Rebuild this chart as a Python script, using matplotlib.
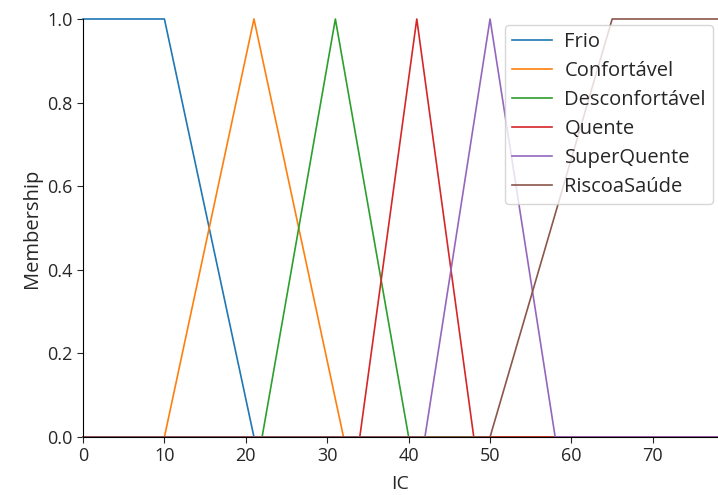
import matplotlib
matplotlib.use("Agg")
import matplotlib.pyplot as plt

# membership function breakpoints (IC universe 0..78)
labels = ["Frio", "Confortável", "Desconfortável", "Quente", "SuperQuente", "RiscoaSaúde"]
x_pts = [
    [0, 0, 10, 21, 78],
    [0, 10, 21, 32, 78],
    [0, 22, 31, 40, 78],
    [0, 34, 41, 48, 78],
    [0, 42, 50, 58, 78],
    [0, 50, 65, 78, 78],
]
y_pts = [
    [1, 1, 1, 0, 0],
    [0, 0, 1, 0, 0],
    [0, 0, 1, 0, 0],
    [0, 0, 1, 0, 0],
    [0, 0, 1, 0, 0],
    [0, 0, 1, 1, 1],
]
colors = ["#1f77b4", "#ff7f0e", "#2ca02c", "#d62728", "#9467bd", "#8c564b"]

plt.rcParams['font.family'] = ['Open Sans', 'DejaVu Sans']
plt.rcParams['font.size'] = 13
plt.rcParams['text.color'] = '#262626'
plt.rcParams['axes.labelcolor'] = '#262626'
plt.rcParams['xtick.color'] = '#262626'
plt.rcParams['ytick.color'] = '#262626'

fig = plt.figure(figsize=(7.18, 4.95), dpi=100)
ax = fig.add_axes([83/718, 58/495, 635/718, 418/495])

for xs, ys, lab, c in zip(x_pts, y_pts, labels, colors):
    ax.plot(xs, ys, color=c, lw=1.2, label=lab, clip_on=False)

ax.set_xlim(0, 78)
ax.set_ylim(0, 1.0)
ax.set_xticks([0, 10, 20, 30, 40, 50, 60, 70])
ax.set_yticks([0, 0.2, 0.4, 0.6, 0.8, 1.0])
ax.set_xlabel("IC", fontsize=14, labelpad=7)
ax.set_ylabel("Membership", fontsize=14.5)
ax.spines['top'].set_visible(False)
ax.spines['right'].set_visible(False)
ax.tick_params(direction='out', length=4)

ax.legend(loc='upper right', bbox_to_anchor=(713/718, 470/495), bbox_transform=fig.transFigure,
          fontsize=14.5, borderaxespad=0, handlelength=2.0, handletextpad=0.6,
          labelspacing=0.45, borderpad=0.35)

fig.savefig("out.png", dpi=100)
